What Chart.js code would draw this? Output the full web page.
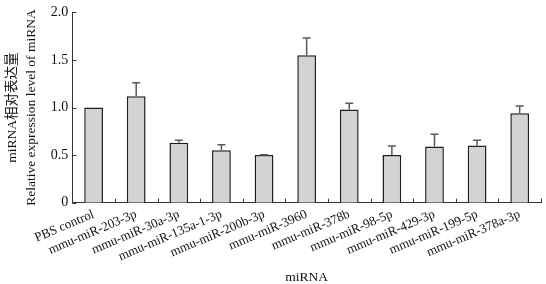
<!DOCTYPE html>
<html>
<head>
<meta charset="utf-8">
<script src="https://cdn.jsdelivr.net/npm/chart.js@4"></script>
<style>
  html, body { margin: 0; padding: 0; background: #fff; }
  #wrap { width: 546px; height: 284px; }
</style>
</head>
<body>
<div id="wrap"><canvas id="myChart" width="546" height="284"></canvas></div>
<script>
const categories = ['PBS control', 'mmu-miR-203-3p', 'mmu-miR-30a-3p', 'mmu-miR-135a-1-3p', 'mmu-miR-200b-3p',
  'mmu-miR-3960', 'mmu-miR-378b', 'mmu-miR-98-5p', 'mmu-miR-429-3p', 'mmu-miR-199-5p', 'mmu-miR-378a-3p'];
const means = [1.0, 1.12, 0.63, 0.55, 0.50, 1.55, 0.98, 0.50, 0.59, 0.60, 0.94];
const errors = [0, 0.14, 0.025, 0.06, 0.005, 0.18, 0.065, 0.095, 0.13, 0.055, 0.075];
const yTicks = [0, 0.5, 1.0, 1.5, 2.0];

const FONT = "'Liberation Serif', 'Noto Sans CJK SC', serif";

// error bars (upward only) + inward tick marks
const extras = {
  id: 'extras',
  afterDatasetsDraw(chart) {
    const ctx = chart.ctx;
    const x = chart.scales.x;
    const y = chart.scales.y;
    const meta = chart.getDatasetMeta(0);
    ctx.save();
    ctx.strokeStyle = '#5a5a5a';
    ctx.lineWidth = 1.5;
    meta.data.forEach((bar, i) => {
      if (!errors[i]) return;
      const top = y.getPixelForValue(means[i] + errors[i]);
      ctx.beginPath();
      ctx.moveTo(bar.x, bar.y);
      ctx.lineTo(bar.x, top);
      ctx.moveTo(bar.x - 4, top);
      ctx.lineTo(bar.x + 4, top);
      ctx.stroke();
    });
    // tick marks
    ctx.strokeStyle = '#333';
    ctx.lineWidth = 1;
    ctx.beginPath();
    const step = (x.right - x.left) / categories.length;
    for (let i = 1; i <= categories.length; i++) {
      const px = Math.round(x.left + i * step) + 0.5;
      ctx.moveTo(px, y.bottom);
      ctx.lineTo(px, y.bottom - 4);
    }
    yTicks.forEach(v => {
      const py = Math.round(y.getPixelForValue(v)) + 0.5;
      ctx.moveTo(x.left, py);
      ctx.lineTo(x.left + 4, py);
    });
    ctx.stroke();
    ctx.restore();
  }
};

const ctx = document.getElementById('myChart').getContext('2d');
new Chart(ctx, {
  type: 'bar',
  data: {
    labels: categories,
    datasets: [{
      data: means,
      backgroundColor: '#d3d3d3',
      borderColor: '#1e1e1e',
      borderWidth: 1.5,
      borderSkipped: 'bottom',
      categoryPercentage: 1.0,
      barPercentage: 0.44
    }]
  },
  options: {
    responsive: false,
    animation: false,
    layout: { padding: { top: 10, right: 5, left: 0, bottom: 0 } },
    plugins: {
      legend: { display: false },
      tooltip: { enabled: false }
    },
    scales: {
      x: {
        grid: { display: false, drawTicks: false },
        border: { display: true, color: '#333', width: 1 },
        ticks: {
          color: '#111',
          font: { family: FONT, size: 13 },
          minRotation: 23,
          maxRotation: 23,
          autoSkip: false,
          padding: 4
        },
        title: {
          display: true,
          text: 'miRNA',
          color: '#111',
          font: { family: FONT, size: 13.5, lineHeight: 1.0 },
          padding: { top: 2, bottom: 0 }
        }
      },
      y: {
        min: 0,
        max: 2,
        afterBuildTicks: (axis) => { axis.ticks = yTicks.map(v => ({ value: v })); },
        grid: { display: false, drawTicks: false },
        border: { display: true, color: '#333', width: 1 },
        ticks: {
          color: '#111',
          font: { family: FONT, size: 14 },
          padding: 4,
          callback: v => v === 0 ? '0' : v.toFixed(1)
        },
        title: {
          display: true,
          text: ['miRNA相对表达量', 'Relative expression level of miRNA'],
          color: '#111',
          font: { family: FONT, size: 13.5, lineHeight: 1.4 },
          padding: { top: 3, bottom: 6 }
        }
      }
    }
  },
  plugins: [extras]
});
</script>
</body>
</html>
